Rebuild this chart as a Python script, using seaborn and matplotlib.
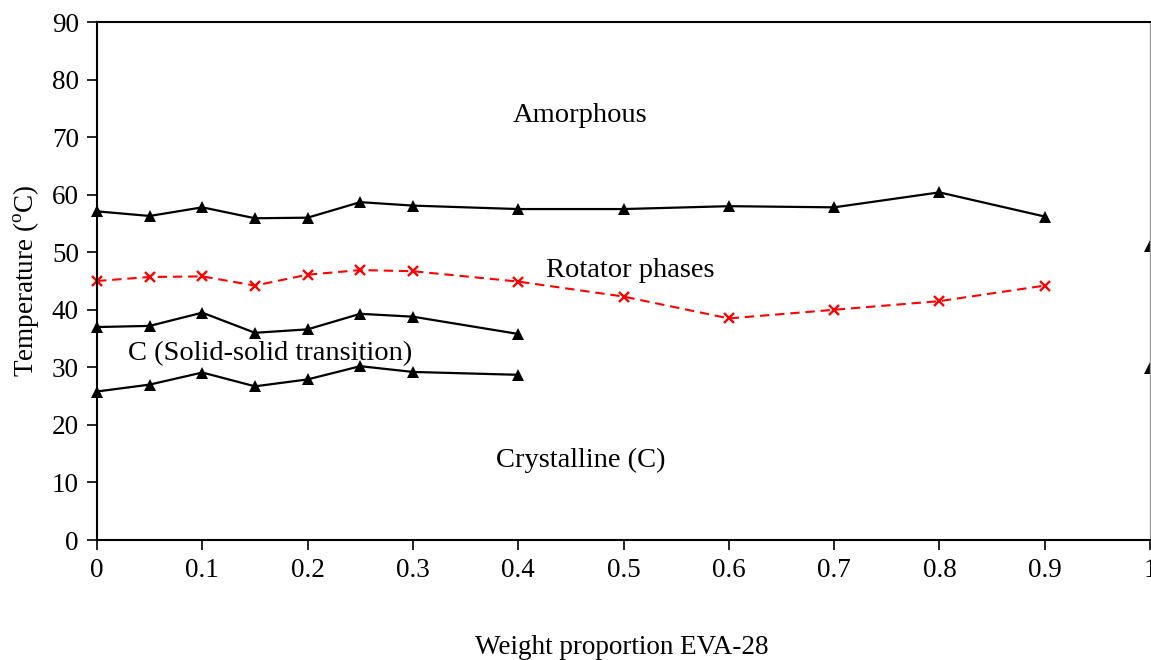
import matplotlib

matplotlib.use("Agg")

import matplotlib.pyplot as plt
import seaborn as sns

# ── data ──
x_main = [0, 0.05, 0.1, 0.15, 0.2, 0.25, 0.3, 0.4, 0.5, 0.6, 0.7, 0.8, 0.9]
t_melt = [57.1, 56.3, 57.8, 55.9, 56.0, 58.7, 58.1, 57.5, 57.5, 58.0, 57.8, 60.4, 56.2]
t_rotator = [45.0, 45.7, 45.8, 44.2, 46.1, 46.9, 46.7, 44.9, 42.3, 38.5, 40.0, 41.5, 44.2]

x_solid = [0, 0.05, 0.1, 0.15, 0.2, 0.25, 0.3, 0.4]
t_solid_hi = [37.0, 37.2, 39.5, 36.0, 36.6, 39.3, 38.8, 35.8]
t_solid_lo = [25.8, 27.0, 29.1, 26.7, 27.9, 30.2, 29.2, 28.7]

x_eva = [1.0, 1.0]
t_eva = [51.0, 29.9]

region_labels = ["Amorphous", "Rotator phases", "C (Solid-solid transition)", "Crystalline (C)"]
label_x = [0.459, 0.506, 0.164, 0.459]
label_y = [73.7, 46.9, 32.3, 13.9]

sns.set_theme(style="white")
plt.rcParams["font.family"] = ["Liberation Serif", "DejaVu Serif"]
plt.rcParams["text.color"] = "black"
plt.rcParams["axes.labelcolor"] = "black"
plt.rcParams["mathtext.fontset"] = "custom"
plt.rcParams["mathtext.rm"] = "Liberation Serif"

FS = 19.5
FS_REGION = 20.5

fig = plt.figure(figsize=(11.51, 6.6), dpi=100)
ax = fig.add_axes([97 / 1151, 1 - 540 / 660, 1053 / 1151, 518 / 660])

tri = dict(marker="^", markersize=8.5, color="black", linewidth=1.6, clip_on=False)
sns.lineplot(x=x_main, y=t_melt, ax=ax, markeredgewidth=0, **tri)
sns.lineplot(x=x_solid, y=t_solid_hi, ax=ax, markeredgewidth=0, **tri)
sns.lineplot(x=x_solid, y=t_solid_lo, ax=ax, markeredgewidth=0, **tri)
sns.lineplot(x=x_main, y=t_rotator, ax=ax, color="red", linestyle=(0, (4.5, 2.8)),
             linewidth=1.5, marker="x", markersize=6.5, markeredgewidth=1.7,
             markeredgecolor="red", clip_on=False)
ax.plot(x_eva, t_eva, linestyle="none", marker="^", markersize=8.5,
        color="black", markeredgewidth=0, clip_on=False)

for txt, lx, ly in zip(region_labels, label_x, label_y):
    ax.text(lx, ly, txt, fontsize=FS_REGION, ha="center", va="center", color="black")

ax.set_xlim(0, 1)
ax.set_ylim(0, 90)
ax.set_xticks([0, 0.1, 0.2, 0.3, 0.4, 0.5, 0.6, 0.7, 0.8, 0.9, 1.0])
ax.set_xticklabels(["0", "0.1", "0.2", "0.3", "0.4", "0.5", "0.6", "0.7", "0.8", "0.9", "1"])
ax.set_yticks(range(0, 91, 10))
ax.tick_params(axis="both", direction="out", length=7, width=1.2,
               labelsize=FS, colors="black", pad=6,
               bottom=True, left=True)

for side in ["left", "bottom", "top"]:
    ax.spines[side].set_color("black")
    ax.spines[side].set_linewidth(1.5)
ax.spines["right"].set_color("#999999")
ax.spines["right"].set_linewidth(1.0)

ax.set_ylabel("Temperature ($^{\\mathrm{o}}$C)", fontsize=FS, labelpad=8)
fig.text(622 / 1151, 1 - 648 / 660, "Weight proportion EVA-28",
         fontsize=FS, ha="center", va="center")

fig.savefig("out.png", dpi=100)
